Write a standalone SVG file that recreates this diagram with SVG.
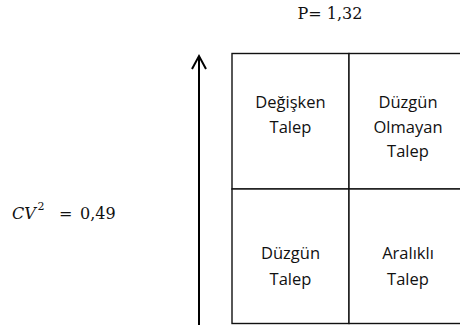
<svg xmlns="http://www.w3.org/2000/svg" width="460" height="327" viewBox="0 0 460 327">
  <style>
    .cell { fill: #ffffff; stroke: #111111; stroke-width: 1.4; }
    .lbl { font-family: "Open Sans", "Liberation Sans", sans-serif; font-size: 16.5px; fill: #111111; text-anchor: middle; }
    .math { font-family: "DejaVu Serif", "Liberation Serif", serif; font-size: 16px; fill: #111111; }
    .axis { fill: none; stroke: #000000; stroke-width: 2; }
  </style>

  <rect width="460" height="327" fill="#ffffff"/>

  <!-- parameter labels -->
  <text class="math" x="330" y="19" text-anchor="middle">P= 1,32</text>
  <text class="math" y="219"><tspan x="12" font-style="italic">CV</tspan><tspan x="37.5" y="210" font-size="11">2</tspan><tspan x="59" y="219">=</tspan><tspan x="80">0,49</tspan></text>

  <!-- vertical axis arrow -->
  <g id="connectors">
    <line class="axis" x1="199" y1="325" x2="199" y2="56"/>
    <polyline class="axis" points="192,69 199,56 206,69"/>
  </g>

  <!-- quadrant grid -->
  <g id="q-degisken">
    <rect class="cell" x="232" y="53.5" width="117" height="135.5"/>
    <text class="lbl" x="290.5" y="108">Değişken</text>
    <text class="lbl" x="290.5" y="132.5">Talep</text>
  </g>
  <g id="q-duzgun-olmayan">
    <rect class="cell" x="349" y="53.5" width="118" height="135.5"/>
    <text class="lbl" x="408" y="108">Düzgün</text>
    <text class="lbl" x="408" y="132.5">Olmayan</text>
    <text class="lbl" x="408" y="157">Talep</text>
  </g>
  <g id="q-duzgun">
    <rect class="cell" x="232" y="189" width="117" height="134.5"/>
    <text class="lbl" x="290.5" y="258.5">Düzgün</text>
    <text class="lbl" x="290.5" y="284.5">Talep</text>
  </g>
  <g id="q-aralikli">
    <rect class="cell" x="349" y="189" width="118" height="134.5"/>
    <text class="lbl" x="408" y="258.5">Aralıklı</text>
    <text class="lbl" x="408" y="284.5">Talep</text>
  </g>
</svg>
